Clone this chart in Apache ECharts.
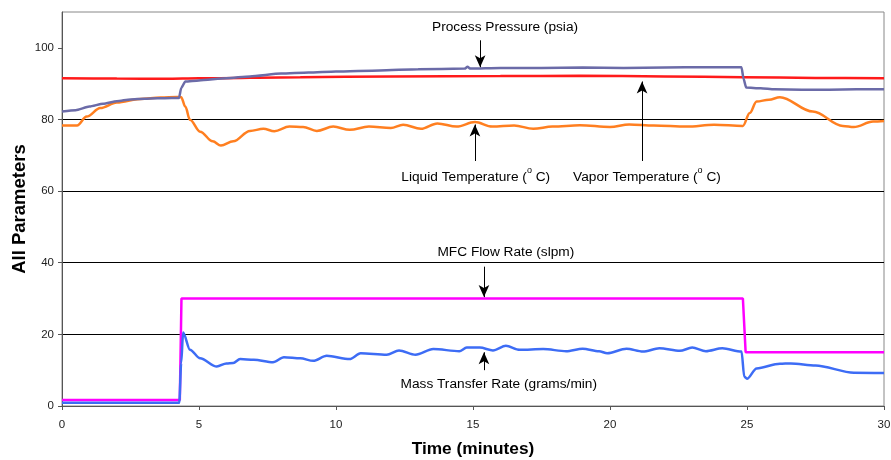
<!DOCTYPE html>
<html><head><meta charset="utf-8">
<script src="https://cdn.jsdelivr.net/npm/echarts@6/dist/echarts.min.js"></script>
<style>html,body{margin:0;padding:0;background:#fff}#c{width:891px;height:460px}</style>
</head><body><div id="c"></div>
<script>
// ---- data (time in minutes) ----
var xTicks = [0, 5, 10, 15, 20, 25, 30];
var yTicks = [0, 20, 40, 60, 80, 100];

var vaporT = [0, 2, 3.8, 5, 8.7, 12, 16, 18.9, 22, 24.85, 27.5, 30];
var vaporV = [91.5, 91.4, 91.35, 91.5, 91.8, 92.0, 92.1, 92.2, 92.0, 91.8, 91.6, 91.5];

var pressureT = [0, 0.5, 1, 1.5, 2, 2.5, 3, 3.5, 4, 4.27, 4.35, 4.5, 5, 6, 6.86, 8, 9, 10, 11.6, 13, 14.7, 14.8, 14.9, 16, 17.5, 19, 20.5, 22, 23.5, 24.8, 24.87, 24.97, 25.5, 26, 27, 28, 29, 30];
var pressureV = [82.2, 82.6, 83.6, 84.4, 85.1, 85.6, 85.8, 85.9, 86.0, 86.0, 88.8, 90.6, 90.9, 91.5, 92.0, 92.8, 93.1, 93.4, 93.7, 94.0, 94.2, 94.7, 94.2, 94.4, 94.4, 94.5, 94.4, 94.5, 94.6, 94.6, 91.5, 88.9, 88.7, 88.4, 88.3, 88.3, 88.4, 88.4];

var liquidT = [0, 0.55, 0.9, 1.4, 2.0, 2.85, 3.6, 4.2, 4.35, 4.5, 4.67, 5.04, 5.5, 5.8, 6.25, 6.86, 7.35, 7.75, 8.3, 8.8, 9.3, 9.9, 10.5, 11.2, 12.0, 12.45, 13.1, 13.7, 14.4, 15.07, 15.7, 16.5, 17.2, 17.9, 18.9, 20.0, 20.7, 21.6, 22.8, 23.8, 24.85, 25.1, 25.35, 25.8, 26.2, 27.4, 28.5, 28.9, 29.6, 30];
var liquidV = [78.3, 78.3, 80.8, 83.2, 84.7, 85.7, 86.1, 86.3, 86.2, 83.6, 79.9, 76.6, 73.9, 72.7, 73.9, 76.8, 77.4, 76.7, 78.0, 77.9, 76.8, 78.0, 77.1, 78.0, 77.6, 78.5, 77.4, 78.9, 78.0, 79.3, 78.0, 78.3, 77.4, 78.0, 78.4, 77.9, 78.6, 78.3, 78.0, 78.5, 78.2, 81.8, 85.0, 85.5, 86.2, 82.2, 78.2, 77.9, 79.4, 79.6];

var mfcT = [0, 4.3, 4.36, 24.85, 24.95, 30];
var mfcV = [1.7, 1.7, 30.0, 30.0, 15.0, 15.0];

var massT = [0, 4.28, 4.35, 4.42, 4.67, 5.04, 5.65, 6.0, 6.25, 6.5, 7.0, 7.7, 8.1, 8.7, 9.17, 9.66, 10.5, 10.9, 11.85, 12.3, 12.9, 13.55, 14.5, 14.77, 15.25, 15.73, 16.2, 16.7, 17.56, 18.4, 19.0, 19.6, 19.9, 20.6, 21.2, 21.8, 22.55, 23.0, 23.5, 24.1, 24.8, 24.9, 25.0, 25.35, 26.2, 26.6, 27.5, 28.9, 30];
var massV = [0.9, 0.9, 12.0, 20.5, 15.7, 13.3, 11.0, 11.9, 12.0, 13.1, 12.9, 12.2, 13.6, 13.3, 12.6, 14.0, 13.1, 14.7, 14.3, 15.5, 14.3, 15.9, 15.3, 16.3, 16.3, 15.5, 16.8, 15.7, 15.9, 15.3, 16.0, 15.3, 14.7, 16.0, 15.2, 16.1, 15.4, 16.3, 15.3, 16.1, 15.2, 8.2, 7.6, 10.5, 11.8, 11.9, 11.3, 9.3, 9.2];

// ---- annotations: label text position + arrow (from -> tip), in data units ----
var annotations = [
  {text: 'Process Pressure (psia)', at: [16.17, 105.7], from: [15.26, 102.1], to: [15.26, 94.6]},
  {text: '{a|Liquid Temperature (}{s|o}{a| C)}', at: [15.1, 64.0], from: [15.07, 68.4], to: [15.07, 78.6]},
  {text: '{a|Vapor Temperature (}{s|o}{a| C)}', at: [21.35, 64.0], from: [21.17, 68.4], to: [21.17, 90.6]},
  {text: 'MFC Flow Rate (slpm)', at: [16.2, 43.0], from: [15.4, 38.9], to: [15.4, 30.4]},
  {text: 'Mass Transfer Rate (grams/min)', at: [15.94, 6.1], from: [15.4, 10.0], to: [15.4, 15.0]}
];

function zip(t, v) { return t.map(function (x, i) { return [x, v[i]]; }); }

var FONT = 'Arial, "Liberation Sans", sans-serif';
var chart = echarts.init(document.getElementById('c'), null, {renderer: 'canvas'});

function lineSeries(name, t, v, color, smooth) {
  return {
    name: name, type: 'line', data: zip(t, v), showSymbol: false, symbol: 'none',
    smooth: smooth, smoothMonotone: 'x',
    lineStyle: {color: color, width: 2.5}, itemStyle: {color: color},
    animation: false, silent: true
  };
}

var annoSeries = {
  name: 'annotations', type: 'line', data: [], silent: true, animation: false,
  markLine: {
    silent: true, animation: false, symbol: ['none', 'arrow'], symbolSize: [8, 12],
    lineStyle: {color: '#000', width: 1, type: 'solid'},
    label: {show: false},
    data: annotations.map(function (a) { return [{coord: a.from}, {coord: a.to}]; })
  },
  markPoint: {
    silent: true, animation: false, symbol: 'circle', symbolSize: 1,
    itemStyle: {color: 'rgba(0,0,0,0)'},
    label: {
      show: true, position: 'inside', color: '#000', fontSize: 13.7, fontFamily: FONT,
      rich: {
        a: {fontSize: 13.7, fontFamily: FONT, color: '#000', lineHeight: 22},
        s: {fontSize: 9, fontFamily: FONT, color: '#000', lineHeight: 9, verticalAlign: 'top'}
      }
    },
    data: annotations.map(function (a) {
      return {coord: a.at, value: a.text, label: {formatter: a.text}};
    })
  }
};

chart.setOption({
  backgroundColor: '#fff',
  animation: false,
  grid: {left: 62, right: 7, top: 12, bottom: 54, containLabel: false, outerBoundsMode: 'none',
         show: true, borderColor: '#888', borderWidth: 1, backgroundColor: 'transparent'},
  xAxis: {
    type: 'value', min: 0, max: 30, interval: 5,
    name: 'Time (minutes)', nameLocation: 'middle', nameGap: 35, nameMoveOverlap: false,
    nameTextStyle: {fontSize: 17.3, fontWeight: 'bold', fontFamily: FONT, color: '#000'},
    axisLine: {show: true, lineStyle: {color: '#555', width: 1}},
    axisTick: {show: true, length: 4, inside: false, lineStyle: {color: '#555'}, customValues: xTicks},
    axisLabel: {fontSize: 11.5, fontFamily: FONT, color: '#222', margin: 13, customValues: xTicks},
    splitLine: {show: false}
  },
  yAxis: {
    type: 'value', min: 0, max: 110, interval: 20,
    name: 'All Parameters', nameLocation: 'middle', nameGap: 33, nameMoveOverlap: false,
    nameTextStyle: {fontSize: 18.5, fontWeight: 'bold', fontFamily: FONT, color: '#000'},
    axisLine: {show: true, lineStyle: {color: '#555', width: 1}},
    axisTick: {show: true, length: 4, lineStyle: {color: '#555'}, customValues: yTicks},
    axisLabel: {fontSize: 11.5, fontFamily: FONT, color: '#222', margin: 8, customValues: yTicks},
    splitLine: {show: true, showMinLine: false, showMaxLine: false, lineStyle: {color: '#000', width: 1}}
  },
  series: [
    lineSeries('Vapor Temperature', vaporT, vaporV, '#ff1a1a', 0.3),
    lineSeries('Liquid Temperature', liquidT, liquidV, '#ff7f20', 0.35),
    lineSeries('Process Pressure', pressureT, pressureV, '#6b6ba8', 0.2),
    lineSeries('MFC Flow Rate', mfcT, mfcV, '#ff00ff', false),
    lineSeries('Mass Transfer Rate', massT, massV, '#3d6cf5', 0.3),
    annoSeries
  ]
});
</script>
</body></html>
